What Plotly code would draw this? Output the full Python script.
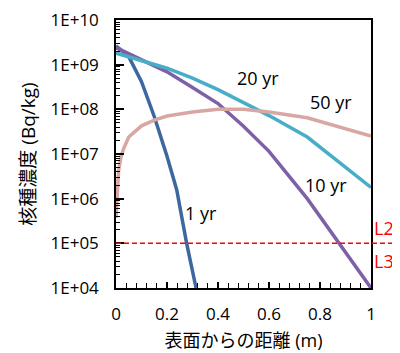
import plotly.graph_objects as go

# ---- data (log10 of concentration) ----
x_1yr = [0, 0.05, 0.1, 0.133, 0.15, 0.2, 0.238, 0.277, 0.3, 0.314]
log_1yr = [9.42, 9.18, 8.62, 8.14, 7.84, 6.95, 6.2, 5.0, 4.38, 4.0]

x_10yr = [0, 0.1, 0.2, 0.3, 0.4, 0.5, 0.6, 0.75, 1.0]
log_10yr = [9.38, 9.12, 8.84, 8.49, 8.13, 7.62, 7.06, 6.0, 4.0]

x_20yr = [0, 0.1, 0.2, 0.3, 0.4, 0.5, 0.6, 0.75, 1.0]
log_20yr = [9.26, 9.1, 8.92, 8.70, 8.44, 8.15, 7.86, 7.38, 6.25]

x_50yr = [0, 0.005, 0.01, 0.02, 0.03, 0.05, 0.1, 0.15, 0.2, 0.3, 0.4, 0.5, 0.6, 0.75, 1.0]
log_50yr = [5.57, 6.3, 6.62, 6.95, 7.12, 7.38, 7.63, 7.76, 7.85, 7.94, 8.0, 8.0, 7.94, 7.81, 7.40]

series_names = ["1 yr", "10 yr", "20 yr", "50 yr"]
series_colors = ["#3c679f", "#7d60a7", "#48aec8", "#d9a7a3"]

limit_value = 1e5
ytick_vals = [1e4, 1e5, 1e6, 1e7, 1e8, 1e9, 1e10]
ytick_text = ["1E+04", "1E+05", "1E+06", "1E+07", "1E+08", "1E+09", "1E+10"]

FONT = "Open Sans, Noto Sans CJK JP, sans-serif"

fig = go.Figure()
for xs, ls, name, col in zip([x_1yr, x_10yr, x_20yr, x_50yr],
                             [log_1yr, log_10yr, log_20yr, log_50yr],
                             series_names, series_colors):
    fig.add_trace(go.Scatter(x=xs, y=[10 ** v for v in ls], mode="lines", name=name,
                             line=dict(color=col, width=3.5), showlegend=False))

# dashed limit line (extends slightly beyond right axis)
fig.add_shape(type="line", xref="paper", yref="y", x0=0, x1=1.09, y0=limit_value, y1=limit_value,
              line=dict(color="#ff0000", width=1.5, dash="5px,3px"), layer="above")

ann_font = dict(family=FONT, size=18, color="black")
labels = [("1 yr", 0.333, 5.68), ("10 yr", 0.824, 6.31), ("20 yr", 0.557, 8.70), ("50 yr", 0.843, 8.17)]
for t, xx, ly in labels:
    fig.add_annotation(x=xx, y=ly, text=t, showarrow=False, font=ann_font, xref="x", yref="y",
                       xanchor="center", yanchor="middle")
fig.add_annotation(x=1.051, y=5.35, text="L2", showarrow=False, xref="paper", yref="y",
                   xanchor="center", yanchor="middle",
                   font=dict(family=FONT, size=18, color="#ff0000"))
fig.add_annotation(x=1.051, y=4.61, text="L3", showarrow=False, xref="paper", yref="y",
                   xanchor="center", yanchor="middle",
                   font=dict(family=FONT, size=18, color="#ff0000"))

fig.update_xaxes(range=[0, 1], dtick=0.2, ticks="inside", ticklen=6, tickwidth=1.5, tickcolor="black",
                 showline=True, linecolor="black", linewidth=1.5, mirror=True, showgrid=False,
                 zeroline=False, ticklabelstandoff=10, automargin=False, ticklabeloverflow="allow",
                 minor=dict(ticks="inside", ticklen=5, dtick=0.04, tickcolor="black", tickwidth=1.2),
                 tickfont=dict(family=FONT, size=17, color="black"),
                 title=dict(text="表面からの距離 (m)", font=dict(family=FONT, size=18, color="black"), standoff=10))
fig.update_yaxes(type="log", range=[4, 10], tickmode="array", tickvals=ytick_vals, ticktext=ytick_text,
                 ticks="inside", ticklen=8, tickwidth=1.5, tickcolor="black",
                 showline=True, linecolor="black", linewidth=1.5, mirror=True, showgrid=False,
                 zeroline=False, ticklabelstandoff=12, automargin=False, ticklabeloverflow="allow",
                 minor=dict(ticks="inside", ticklen=4, dtick="D1", tickcolor="black", tickwidth=1.2),
                 tickfont=dict(family=FONT, size=17, color="black"),
                 title=dict(text="核種濃度 (Bq/kg)", font=dict(family=FONT, size=19, color="black"), standoff=10))

# the page body has a default margin of about 8px; margins are reduced to compensate
fig.update_layout(width=400, height=353, margin=dict(l=108, r=37, t=12, b=73, autoexpand=False),
                  plot_bgcolor="white", paper_bgcolor="white", font=dict(family=FONT))
fig.write_html("out.html")
